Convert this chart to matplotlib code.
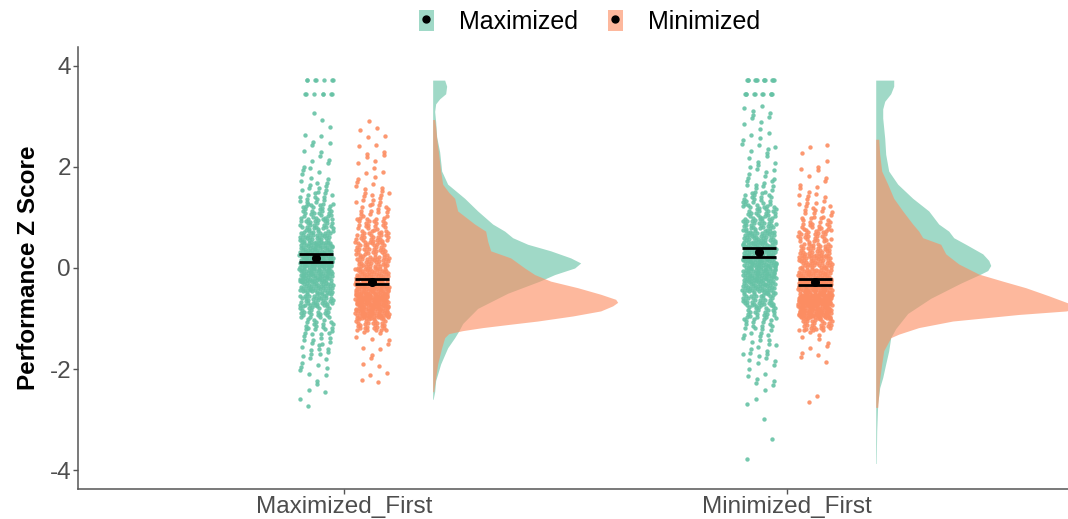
import matplotlib.pyplot as plt
from matplotlib.patches import Patch
from matplotlib.lines import Line2D
import numpy as np

plt.rcParams['font.family'] = ['Liberation Sans', 'DejaVu Sans']
plt.rcParams['axes.unicode_minus'] = False

groups = ['Maximized_First', 'Minimized_First']
conditions = ['Maximized', 'Minimized']
colors = {'Maximized': '#66C2A5', 'Minimized': '#FC8D62'}

# point counts per 0.25-wide bin (bin centres)
bin_centres = [-3.875, -3.625, -3.375, -3.125, -2.875, -2.625, -2.375, -2.125,
               -1.875, -1.625, -1.375, -1.125, -0.875, -0.625, -0.375, -0.125,
               0.125, 0.375, 0.625, 0.875, 1.125, 1.375, 1.625, 1.875,
               2.125, 2.375, 2.625, 2.875, 3.125]
counts_maxfirst_max = [0, 0, 0, 0, 0, 2, 3, 4, 6, 9, 12, 18, 26, 38, 50, 62,
                       70, 55, 40, 32, 24, 16, 10, 6, 5, 4, 3, 2, 1]
counts_maxfirst_min = [0, 0, 0, 0, 0, 0, 1, 3, 3, 4, 5, 30, 75, 90, 70, 50,
                       40, 32, 30, 22, 14, 11, 6, 5, 4, 4, 3, 2, 0]
counts_minfirst_max = [1, 0, 1, 0, 1, 2, 3, 4, 6, 8, 10, 16, 24, 36, 50, 62,
                       62, 52, 42, 34, 26, 18, 11, 7, 6, 6, 5, 4, 5]
counts_minfirst_min = [0, 0, 0, 0, 0, 2, 0, 0, 2, 4, 5, 30, 85, 100, 75, 55,
                       45, 35, 28, 20, 13, 9, 5, 4, 2, 3, 0, 0, 0]
# capped scores sitting on two rows at the top of the Maximized clouds
ceiling_rows = [3.45, 3.72]
ceiling_maxfirst = [7, 7]
ceiling_minfirst = [10, 12]

# mean and standard error
means_max = [0.20, 0.31]
se_max = [0.08, 0.09]
means_min = [-0.27, -0.28]
se_min = [0.055, 0.06]

# half-violin outlines: score and relative density
vy_maxfirst_max = [3.72, 3.6, 3.45, 3.35, 3.25, 3.1, 2.9, 2.6, 2.3, 1.92, 1.66, 1.38,
                   1.13, 0.87, 0.73, 0.6, 0.47, 0.34, 0.2, 0.1, 0.0, -0.13, -0.26,
                   -0.5, -0.8, -1.1, -1.25, -1.38, -1.58, -1.9, -2.23, -2.45, -2.6]
vd_maxfirst_max = [12, 14, 13, 7, 3, 2, 3, 4, 7, 9, 15, 32,
                   45, 60, 72, 80, 95, 118, 138, 148, 142, 122, 107,
                   75, 45, 30, 26, 22, 15, 8, 3, 2, 0.5]
vy_maxfirst_min = [2.94, 2.8, 2.57, 2.25, 1.92, 1.66, 1.5, 1.38, 1.13, 0.87, 0.73,
                   0.53, 0.34, 0.2, 0.0, -0.13, -0.26, -0.39, -0.52, -0.62, -0.68,
                   -0.75, -0.85, -0.95, -1.05, -1.12, -1.18, -1.24, -1.3, -1.38,
                   -1.58, -1.9, -2.17, -2.45]
vd_maxfirst_min = [2, 3, 4, 6, 8, 10, 16, 22, 25, 42, 53,
                   55, 58, 78, 92, 102, 118, 145, 168, 183, 185,
                   180, 168, 140, 105, 75, 50, 30, 16, 12,
                   9, 5, 3, 1]
vy_minfirst_max = [3.72, 3.6, 3.45, 3.3, 3.15, 2.97, 2.57, 2.25, 1.92, 1.66, 1.38,
                   1.13, 0.87, 0.73, 0.6, 0.47, 0.28, 0.15, 0.05, -0.05, -0.12,
                   -0.3, -0.6, -0.9, -1.2, -1.38, -1.64, -1.9, -2.17, -2.37, -2.69,
                   -3.22, -3.87]
vd_minfirst_max = [18, 18, 15, 9, 7, 7, 9, 10, 13, 22, 37,
                   53, 63, 73, 78, 90, 107, 113, 115, 112, 105,
                   85, 55, 32, 20, 15, 13, 10, 7, 4, 2,
                   1, 0.5]
vy_minfirst_min = [2.55, 2.25, 1.92, 1.66, 1.38, 1.13, 0.87, 0.73, 0.6, 0.47, 0.28,
                   0.08, -0.12, -0.26, -0.39, -0.55, -0.69, -0.76, -0.85, -0.92,
                   -1.05, -1.18, -1.31, -1.38, -1.64, -1.9, -2.2, -2.5, -2.76]
vd_minfirst_min = [3, 4, 6, 12, 18, 27, 37, 43, 47, 65, 70,
                   83, 103, 127, 150, 173, 192, 198, 191, 143,
                   77, 43, 23, 15, 8, 6, 4, 3, 2]

counts = {('Maximized_First', 'Maximized'): counts_maxfirst_max,
          ('Maximized_First', 'Minimized'): counts_maxfirst_min,
          ('Minimized_First', 'Maximized'): counts_minfirst_max,
          ('Minimized_First', 'Minimized'): counts_minfirst_min}
ceilings = {'Maximized_First': ceiling_maxfirst, 'Minimized_First': ceiling_minfirst}
violins = {('Maximized_First', 'Maximized'): (vy_maxfirst_max, vd_maxfirst_max),
           ('Maximized_First', 'Minimized'): (vy_maxfirst_min, vd_maxfirst_min),
           ('Minimized_First', 'Maximized'): (vy_minfirst_max, vd_minfirst_max),
           ('Minimized_First', 'Minimized'): (vy_minfirst_min, vd_minfirst_min)}

# layout
dodge = {'Maximized': -0.063, 'Minimized': 0.063}
jitter = 0.038
bin_h = 0.25
violin_base = 0.2
violin_scale = 1 / 443.0

# quasi-even scatter inside each bin (R2 low-discrepancy sequence)
g = 1.32471795724
a1, a2 = 1 / g, 1 / g ** 2


def cloud(cents, cnts, rows=None, rowcnts=None, start=0):
    xs, ys = [], []
    n = start
    for c, k in zip(cents, cnts):
        for _ in range(k):
            n += 1
            xs.append(((0.5 + n * a1) % 1) * 2 - 1)
            ys.append(c + (((0.5 + n * a2) % 1) - 0.5) * bin_h)
    if rows is not None:
        for r, k in zip(rows, rowcnts):
            for _ in range(k):
                n += 1
                xs.append(((0.5 + n * a1) % 1) * 2 - 1)
                ys.append(r)
    return np.array(xs), np.array(ys)


fig = plt.figure(figsize=(10.68, 5.19), dpi=100)
ax = fig.add_axes([78 / 1068, 30 / 519, 990 / 1068, 442 / 519])

for gi, grp in enumerate(groups):
    xc = gi + 1
    # violins: green first, orange on top
    for cond in conditions:
        vy, vd = violins[(grp, cond)]
        vy = np.array(vy)
        vd = np.array(vd) * violin_scale
        ax.fill_betweenx(vy, xc + violin_base, xc + violin_base + vd,
                         color=colors[cond], alpha=0.62, lw=0, zorder=1)
    for ci, cond in enumerate(conditions):
        if cond == 'Maximized':
            xs, ys = cloud(bin_centres, counts[(grp, cond)], ceiling_rows,
                           ceilings[grp], start=gi * 1000 + ci * 500)
        else:
            xs, ys = cloud(bin_centres, counts[(grp, cond)],
                           start=gi * 1000 + ci * 500)
        ax.scatter(xc + dodge[cond] + xs * jitter, ys, s=10, color=colors[cond],
                   alpha=0.9, lw=0, zorder=2)
    ax.errorbar(xc + dodge['Maximized'], means_max[gi], yerr=se_max[gi], fmt='o',
                color='black', ms=5.5, elinewidth=2.5, capsize=12.5, capthick=2,
                zorder=4)
    ax.errorbar(xc + dodge['Minimized'], means_min[gi], yerr=se_min[gi], fmt='o',
                color='black', ms=5.5, elinewidth=2.5, capsize=12.5, capthick=2,
                zorder=4)

ax.set_xlim(0.3995, 2.634)
ax.set_ylim(-4.376, 4.376)
ax.set_xticks([1, 2])
ax.set_xticklabels(groups)
ax.set_yticks([-4, -2, 0, 2, 4])
ax.tick_params(axis='both', labelsize=17.5, labelcolor='#4D4D4D', color='#555555',
               length=3.5, width=1, pad=1.5)
for side in ['top', 'right']:
    ax.spines[side].set_visible(False)
for side in ['left', 'bottom']:
    ax.spines[side].set_color('#555555')
    ax.spines[side].set_linewidth(1.1)
ax.set_ylabel('Performance Z Score', fontsize=17.5, fontweight='bold', labelpad=7)

handles = [(Patch(facecolor=colors[c], alpha=0.62, lw=0),
            Line2D([], [], marker='o', color='black', ls='', ms=5)) for c in conditions]
fig.legend(handles, conditions, loc='upper center', bbox_to_anchor=(0.552, 1.025),
           ncol=2, frameon=False, fontsize=18, handlelength=0.6, handleheight=0.95,
           handletextpad=1.0, columnspacing=1.2)

fig.savefig('out.png', dpi=100)
